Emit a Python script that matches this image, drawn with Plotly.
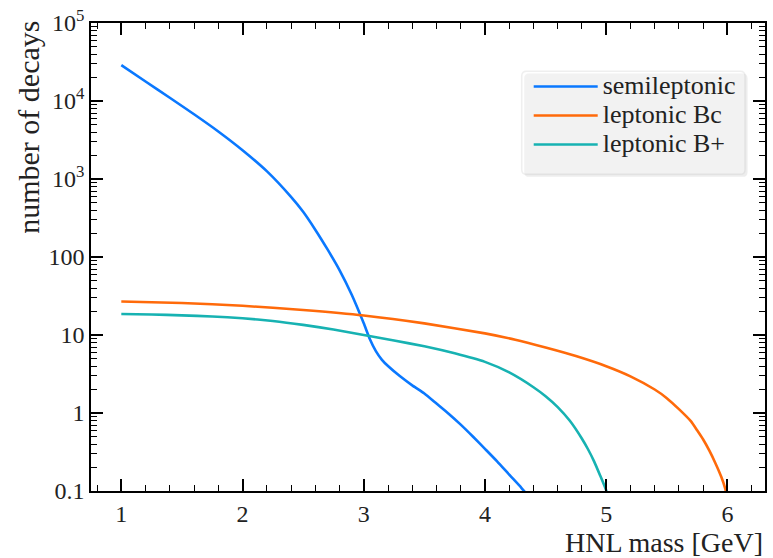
import plotly.graph_objects as go

# ---- data ----
semi_x = [1.0, 1.2, 1.4, 1.6, 1.8, 2.0, 2.2, 2.4, 2.5, 2.6, 2.7, 2.8, 2.9, 3.0, 3.05, 3.1,
          3.15, 3.2, 3.3, 3.4, 3.5, 3.6, 3.7, 3.8, 3.9, 4.0, 4.1, 4.2, 4.3, 4.35]
semi_y = [28800, 17800, 11000, 6760, 4070, 2340, 1260, 590, 380, 224, 126, 68, 33, 14.1, 8.9,
          6.2, 4.8, 4.0, 2.95, 2.26, 1.78, 1.32, 0.98, 0.71, 0.50, 0.347, 0.24, 0.162, 0.110,
          0.089]

bc_x = [1.0, 1.5, 2.0, 2.5, 3.0, 3.5, 4.0, 4.25, 4.5, 4.75, 5.0, 5.2, 5.4, 5.5, 5.6, 5.7,
        5.75, 5.8, 5.85, 5.9, 5.95, 5.98, 6.0]
bc_y = [26.9, 25.7, 23.7, 20.9, 17.8, 14.1, 10.5, 8.7, 6.9, 5.37, 3.98, 2.95, 2.0, 1.55, 1.12,
        0.78, 0.60, 0.457, 0.331, 0.229, 0.151, 0.110, 0.083]

bp_x = [1.0, 1.25, 1.5, 1.75, 2.0, 2.25, 2.5, 2.75, 3.0, 3.25, 3.5, 3.75, 4.0, 4.2, 4.4, 4.5,
        4.6, 4.7, 4.8, 4.85, 4.9, 4.95, 5.0, 5.02]
bp_y = [18.62, 18.32, 17.86, 17.26, 16.41, 15.14, 13.49, 11.75, 10.0, 8.51, 7.16, 5.82, 4.52,
        3.31, 2.14, 1.64, 1.19, 0.794, 0.468, 0.343, 0.240, 0.158, 0.102, 0.079]

names = ["semileptonic", "leptonic Bc", "leptonic B+"]
colors = ["#0a78ff", "#ff6a0a", "#17b2b2"]

# default plotly log labels -> labels shown in the reference
ytick_default = ["1000", "10k", "100k"]
ytick_text = ["10<sup>3</sup>", "10<sup>4</sup>", "10<sup>5</sup>"]

X_RANGE = [0.75, 6.31]
Y_RANGE_LOG = [-1, 5]

FONT = "Liberation Serif"
TXT = "#222222"

fig = go.Figure()
for xs, ys, nm, c in zip([semi_x, bc_x, bp_x], [semi_y, bc_y, bp_y], names, colors):
    fig.add_trace(go.Scatter(
        x=xs, y=ys, mode="lines",
        name='<span style="font-size:26px">' + nm + "</span>",
        line=dict(color=c, width=2.6, shape="spline", smoothing=0.5)))

# invisible companion trace that carries the tick-only overlay axes
fig.add_trace(go.Scatter(x=semi_x, y=semi_y, xaxis="x2", yaxis="y2", mode="lines",
                         line=dict(width=0, color="rgba(0,0,0,0)"), showlegend=False,
                         hoverinfo="skip"))


def rounded_rect(x0, y0, x1, y1, rx, ry):
    return (f"M{x0 + rx},{y0} L{x1 - rx},{y0} Q{x1},{y0} {x1},{y0 + ry} "
            f"L{x1},{y1 - ry} Q{x1},{y1} {x1 - rx},{y1} L{x0 + rx},{y1} "
            f"Q{x0},{y1} {x0},{y1 - ry} L{x0},{y0 + ry} Q{x0},{y0} {x0 + rx},{y0} Z")


# legend frame (decoration, paper coordinates)
PW, PH = 676.0, 471.5
lx0, lx1 = (523 - 91) / PW, (747 - 91) / PW
ly_top, ly_bot = (491 - 68) / PH, (491 - 172) / PH
rx, ry = 5 / PW, 5 / PH
dx, dy = 2.5 / PW, 2.5 / PH
fig.add_shape(type="path", xref="paper", yref="paper", layer="above",
              path=rounded_rect(lx0 + dx, ly_bot - dy, lx1 + dx, ly_top - dy, rx, ry),
              fillcolor="rgba(120,120,120,0.45)", line=dict(width=0))
fig.add_shape(type="path", xref="paper", yref="paper", layer="above",
              path=rounded_rect(lx0, ly_bot, lx1, ly_top, rx, ry),
              fillcolor="white", line=dict(color="#cccccc", width=1.5))

tick_style = dict(ticks="inside", ticklen=12, tickwidth=1.5, tickcolor="black")
minor_style = dict(ticks="inside", ticklen=6, tickwidth=1, tickcolor="black")

fig.update_layout(
    template="simple_white",
    width=773, height=558,
    margin=dict(l=91, r=6, t=19, b=67),
    font=dict(family=FONT, size=22, color=TXT),
    showlegend=True,
    legend=dict(x=(530 - 91) / PW, y=0.906, xanchor="left", yanchor="top",
                bgcolor="rgba(0,0,0,0)", borderwidth=0,
                font=dict(size=20, family=FONT, color=TXT), itemwidth=64),
    xaxis=dict(
        range=X_RANGE, showline=True, mirror=True,
        linecolor="black", linewidth=1.5, **tick_style,
        tickmode="linear", tick0=0, dtick=1,
        tickfont=dict(size=24, family=FONT, color=TXT),
        minor=dict(tickmode="linear", tick0=0, dtick=0.2, **minor_style),
    ),
    yaxis=dict(
        type="log", range=Y_RANGE_LOG, showline=True, mirror=True,
        linecolor="black", linewidth=1.5, **tick_style,
        tickmode="linear", tick0=0, dtick=1,
        labelalias=dict(zip(ytick_default, ytick_text)),
        tickfont=dict(size=24, family=FONT, color=TXT),
        minor=dict(**minor_style),
    ),
    # tick-only twins (no labels) so the inside ticks are drawn on all four sides
    xaxis2=dict(
        range=X_RANGE, overlaying="x", anchor="y2", side="bottom",
        showline=False, mirror="ticks", showticklabels=False, showgrid=False,
        zeroline=False, **tick_style,
        tickmode="linear", tick0=0, dtick=1,
        minor=dict(tickmode="linear", tick0=0, dtick=0.2, **minor_style),
    ),
    yaxis2=dict(
        type="log", range=Y_RANGE_LOG, overlaying="y", anchor="x2", side="left",
        showline=False, mirror="ticks", showticklabels=False, showgrid=False,
        zeroline=False, **tick_style,
        tickmode="linear", tick0=0, dtick=1,
        minor=dict(**minor_style),
    ),
)
fig.add_annotation(text="number of decays", xref="paper", yref="paper",
                   x=-0.092, y=1.01, xanchor="center", yanchor="top", textangle=-90,
                   showarrow=False, font=dict(size=30, family=FONT, color=TXT))
fig.add_annotation(text="HNL mass [GeV]", xref="paper", yref="paper",
                   x=1.0, y=-0.11, xanchor="right", yanchor="middle",
                   showarrow=False, font=dict(size=28, family=FONT, color=TXT))

fig.write_html("out.html")
